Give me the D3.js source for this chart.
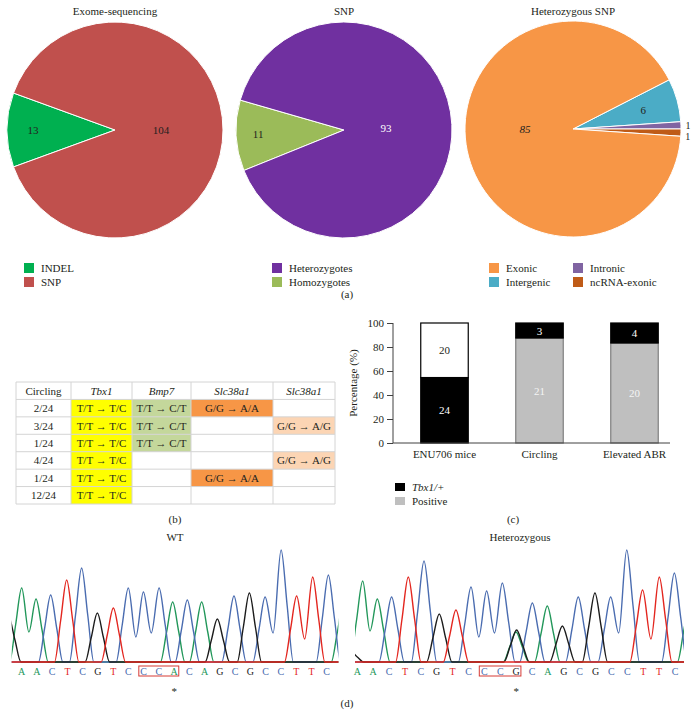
<!DOCTYPE html>
<html><head><meta charset="utf-8">
<script src="https://cdn.jsdelivr.net/npm/d3@7"></script>
<style>
body{margin:0;background:#fff;}
svg{display:block;font-family:"Liberation Serif","Times New Roman",serif;}
</style>
</head><body>
<svg id="chart" width="696" height="727"></svg>
<script>
// ---------------- DATA ----------------
// (a) pies
const exomeCategories = ["INDEL", "SNP"];
const exomeValues = [13, 104];
const snpCategories = ["Heterozygotes", "Homozygotes"];
const snpValues = [93, 11];
const hetCategories = ["Exonic", "Intergenic", "Intronic", "ncRNA-exonic"];
const hetValues = [85, 6, 1, 1];

// (b) table
const tableHeaders = ["Circling", "Tbx1", "Bmp7", "Slc38a1", "Slc38a1"];
const circlingRatios = ["2/24", "3/24", "1/24", "4/24", "1/24", "12/24"];
const tbx1Genotypes = ["T/T → T/C", "T/T → T/C", "T/T → T/C", "T/T → T/C", "T/T → T/C", "T/T → T/C"];
const bmp7Genotypes = ["T/T → C/T", "T/T → C/T", "T/T → C/T", "", "", ""];
const slc38a1AGenotypes = ["G/G → A/A", "", "", "", "G/G → A/A", ""];
const slc38a1BGenotypes = ["", "G/G → A/G", "", "G/G → A/G", "", ""];

// (c) stacked bars (counts)
const barCategories = ["ENU706 mice", "Circling", "Elevated ABR"];
const barBottomCounts = [24, 21, 20];
const barTopCounts = [20, 3, 4];
const barBottomGroup = ["Tbx1/+", "Positive", "Positive"];
const barTopGroup = ["Other", "Tbx1/+", "Tbx1/+"];
const barYTicks = [0, 20, 40, 60, 80, 100];

// (d) chromatograms
const wtBases = ["A","A","C","T","C","G","T","C","C","C","A","C","A","G","C","G","C","C","T","T","C"];
const wtPeakPos = [0,0.94,1.90,2.95,3.93,4.96,6.01,6.99,7.98,9.01,9.90,10.86,11.80,12.83,13.92,14.93,15.96,17.01,18.03,19.08,20.11];
const wtPeakHeights = [74,63,67,82,94,49,54,74,70,74,60,62,60,43,66,69,65,112,66,85,87];
const wtValleys = [30,null,null,null,null,null,null,25,29,null,null,null,null,null,null,null,29,null,23,null];
const wtEdgePeaks = [{base:"G", pos:-0.85, h:45}, {base:"A", pos:21.1, h:60}];

const hetBases = ["A","A","C","T","C","G","T","C","C","C","G","C","A","G","C","G","C","C","T","T","C"];
const hetPeakPos = [0.34,1.26,2.16,3.21,4.20,5.16,6.21,7.16,8.14,9.13,10.03,11.02,11.96,12.91,13.91,14.96,15.95,16.96,17.96,19.01,19.96];
const hetPeakHeights = [81,63,65,85,101,48,52,75,71,79,32,59,56,36,65,69,65,112,72,85,89];
const hetValleys = [31,null,null,null,null,null,null,25,29,null,null,null,null,null,null,null,29,null,23,null];
const hetEdgePeaks = [{base:"G", pos:-0.4, h:10}, {base:"A", pos:9.99, h:30}, {base:"A", pos:20.95, h:62}];

// ---------------- DRAW ----------------
const svg = d3.select("#chart");
svg.append("rect").attr("width", 696).attr("height", 727).attr("fill", "#fff");
const FS = 11;

function txt(g, x, y, s, opts = {}) {
  return g.append("text").attr("x", x).attr("y", y)
    .attr("font-size", opts.size || FS)
    .attr("text-anchor", opts.anchor || "middle")
    .attr("fill", opts.fill || "#231f20")
    .attr("font-style", opts.italic ? "italic" : null)
    .attr("font-family", opts.family || null)
    .text(s);
}

// ---- Pies ----
const R = 108;
function drawPie(cfg) {
  const g = svg.append("g").attr("transform", `translate(${cfg.cx},${cfg.cy})`);
  const items = cfg.order.map(i => ({cat: cfg.cats[i], val: cfg.vals[i], color: cfg.colors[i], lab: cfg.labels[i]}));
  const a0 = cfg.startDeg * Math.PI / 180;
  const pie = d3.pie().sort(null).value(d => d.val).startAngle(a0).endAngle(a0 + 2 * Math.PI);
  const arc = d3.arc().innerRadius(0).outerRadius(R);
  const arcs = pie(items);
  g.selectAll("path").data(arcs).join("path")
    .attr("d", arc).attr("fill", d => d.data.color)
    .attr("stroke", "#fff").attr("stroke-width", 1);
  arcs.forEach(d => {
    const L = d.data.lab;
    const ang = L.angle !== undefined ? L.angle * Math.PI / 180 : (d.startAngle + d.endAngle) / 2;
    const x = L.r * Math.sin(ang), y = -L.r * Math.cos(ang);
    txt(g, x, y + 4, d.data.val, {fill: L.fill, italic: L.italic, size: L.size});
  });
  txt(svg, cfg.cx, 15, cfg.title);
  cfg.legend.forEach(lg => {
    svg.append("rect").attr("x", lg.x).attr("y", lg.y).attr("width", 10).attr("height", 10)
      .attr("fill", cfg.colors[lg.i]);
    txt(svg, lg.x + 17, lg.y + 9, cfg.cats[lg.i], {anchor: "start"});
  });
}

drawPie({
  cx: 115, cy: 130, title: "Exome-sequencing",
  cats: exomeCategories, vals: exomeValues, colors: ["#00b050", "#c0504d"],
  order: [0, 1], startDeg: 250,
  labels: [{r: 82, fill: "#231f20"}, {r: 46, fill: "#231f20"}],
  legend: [{i: 0, x: 24, y: 263}, {i: 1, x: 24, y: 277}]
});
drawPie({
  cx: 344, cy: 130, title: "SNP",
  cats: snpCategories, vals: snpValues, colors: ["#7030a0", "#9bbb59"],
  order: [1, 0], startDeg: 248,
  labels: [{r: 42, fill: "#ffffff"}, {r: 86, fill: "#231f20"}],
  legend: [{i: 0, x: 272, y: 263}, {i: 1, x: 272, y: 277}]
});
drawPie({
  cx: 573, cy: 129, title: "Heterozygous SNP",
  cats: hetCategories, vals: hetValues, colors: ["#f79646", "#4bacc6", "#8064a2", "#bf5b17"],
  order: [1, 2, 3, 0], startDeg: 62.9,
  labels: [{r: 48, angle: 270, fill: "#231f20", italic: true}, {r: 73, fill: "#231f20"},
           {r: 115, angle: 88.2, fill: "#231f20", size: 10}, {r: 115, angle: 93.6, fill: "#231f20", size: 10}],
  legend: [{i: 0, x: 489, y: 263}, {i: 1, x: 489, y: 277}, {i: 2, x: 573, y: 263}, {i: 3, x: 573, y: 277}]
});
txt(svg, 347, 298, "(a)");

// ---- Table (b) ----
(function () {
  const g = svg.append("g");
  const colWidths = [55, 61, 59, 82, 62];
  const colEdges = [16];
  colWidths.forEach(w => colEdges.push(colEdges[colEdges.length - 1] + w));
  const rows = d3.range(7);
  const yRow = d3.scaleBand().domain(rows).range([382, 504]);
  const columns = [circlingRatios, tbx1Genotypes, bmp7Genotypes, slc38a1AGenotypes, slc38a1BGenotypes];
  const fills = [null, "#ffff00", "#c4d79b", "#f79646", "#fcd5b4"];
  columns.forEach((col, c) => {
    col.forEach((v, r) => {
      if (v && fills[c]) {
        g.append("rect").attr("x", colEdges[c]).attr("y", yRow(r + 1))
          .attr("width", colEdges[c + 1] - colEdges[c]).attr("height", yRow.bandwidth())
          .attr("fill", fills[c]);
      }
    });
  });
  rows.concat([7]).forEach(r => {
    const y = r === 7 ? 504 : yRow(r);
    g.append("line").attr("x1", 16).attr("x2", 335).attr("y1", y).attr("y2", y)
      .attr("stroke", "#d4d4d4").attr("stroke-width", 1);
  });
  colEdges.forEach(x => {
    g.append("line").attr("x1", x).attr("x2", x).attr("y1", 382).attr("y2", 504)
      .attr("stroke", "#d4d4d4").attr("stroke-width", 1);
  });
  tableHeaders.forEach((h, c) => {
    txt(g, (colEdges[c] + colEdges[c + 1]) / 2, yRow(0) + yRow.bandwidth() / 2 + 4, h, {italic: c > 0});
  });
  columns.forEach((col, c) => {
    col.forEach((v, r) => {
      if (v) txt(g, (colEdges[c] + colEdges[c + 1]) / 2, yRow(r + 1) + yRow.bandwidth() / 2 + 4, v);
    });
  });
  txt(svg, 175, 523, "(b)");
})();

// ---- Bar chart (c) ----
(function () {
  const g = svg.append("g");
  const x = d3.scaleBand().domain(barCategories).range([397, 682]).paddingInner(0.5).paddingOuter(0.25);
  const y = d3.scaleLinear().domain([0, 100]).range([443, 323]);
  const groupFill = {"Tbx1/+": "#000000", "Positive": "#bfbfbf", "Other": "#ffffff"};
  const groupStroke = {"Tbx1/+": "#000000", "Positive": "#7f7f7f", "Other": "#000000"};
  const groupText = {"Tbx1/+": "#ffffff", "Positive": "#f4f4f4", "Other": "#231f20"};
  barCategories.forEach((cat, i) => {
    const tot = barBottomCounts[i] + barTopCounts[i];
    const pb = barBottomCounts[i] / tot * 100;
    const segs = [
      {y0: 0, y1: pb, grp: barBottomGroup[i], n: barBottomCounts[i]},
      {y0: pb, y1: 100, grp: barTopGroup[i], n: barTopCounts[i]}
    ];
    segs.forEach(s => {
      g.append("rect").attr("x", x(cat)).attr("y", y(s.y1)).attr("width", x.bandwidth())
        .attr("height", y(s.y0) - y(s.y1)).attr("fill", groupFill[s.grp])
        .attr("stroke", groupStroke[s.grp]).attr("stroke-width", 1.2);
    });
    segs.forEach(s => {
      const cy = (y(s.y0) + y(s.y1)) / 2;
      txt(g, x(cat) + x.bandwidth() / 2, cy + 4, s.n, {fill: groupText[s.grp]});
    });
  });
  const ax = g.append("g").attr("transform", "translate(393,0)")
    .call(d3.axisLeft(y).tickValues(barYTicks).tickSize(6).tickPadding(3));
  ax.select(".domain").attr("stroke", "#404040").attr("d", "M0,323V443");
  ax.selectAll(".tick line").attr("stroke", "#404040");
  ax.selectAll(".tick text").attr("font-size", FS).attr("font-family", "Liberation Serif").attr("fill", "#231f20");
  g.append("line").attr("x1", 393).attr("x2", 670).attr("y1", 443).attr("y2", 443).attr("stroke", "#404040");
  barCategories.forEach(cat => txt(g, x(cat) + x.bandwidth() / 2, 458, cat));
  txt(g, 0, 0, "Percentage (%)").attr("transform", "translate(357,383) rotate(-90)");
  [["Tbx1/+", true], ["Positive", false]].forEach(([k, it], j) => {
    g.append("rect").attr("x", 395).attr("y", 483 + j * 14).attr("width", 10).attr("height", 8)
      .attr("fill", groupFill[k]);
    txt(g, 412, 491 + j * 14, k, {anchor: "start", italic: it});
  });
  txt(svg, 513, 523, "(c)");
})();

// ---- Chromatograms (d) ----
const chromColors = {A: "#22975a", C: "#4a6cb0", G: "#1c1c1c", T: "#e3261f"};
function drawChrom(cfg) {
  const g = svg.append("g");
  const x = d3.scaleLinear().domain([0, 20]).range(cfg.range);
  const y = d3.scaleLinear().domain([0, 100]).range([662, 562]);
  const W = 0.8;           // half base width of a peak (in base units)
  const S = 0.5;           // shoulder position (fraction of W) at half height
  const clipId = "clip" + cfg.id;
  svg.append("clipPath").attr("id", clipId).append("rect")
    .attr("x", x(cfg.clip[0])).attr("y", 540).attr("width", x(cfg.clip[1]) - x(cfg.clip[0])).attr("height", 126);
  const peaks = cfg.bases.map((b, i) => ({base: b, pos: cfg.pos[i], h: cfg.heights[i], idx: i}))
    .concat(cfg.edge.map(e => Object.assign({idx: -10}, e)));
  const line = d3.line().x(d => x(d[0])).y(d => y(d[1])).curve(d3.curveMonotoneX);
  const pg = g.append("g").attr("clip-path", `url(#${clipId})`);
  ["A", "C", "G", "T"].forEach(ch => {
    const ps = peaks.filter(p => p.base === ch).sort((a, b) => a.pos - b.pos);
    const pts = [[cfg.clip[0] - 2, 0]];
    ps.forEach((p, k) => {
      const prev = ps[k - 1];
      const v = prev && prev.idx >= 0 && p.idx === prev.idx + 1 ? cfg.valleys[prev.idx] : null;
      if (v !== null && v !== undefined) {
        pts.push([(prev.pos + p.pos) / 2, v]);
      } else {
        if (prev) {
          pts.push([prev.pos + S * W, prev.h / 2]);
          pts.push([prev.pos + W, 0]);
        }
        pts.push([p.pos - W, 0]);
        pts.push([p.pos - S * W, p.h / 2]);
      }
      pts.push([p.pos, p.h]);
    });
    if (ps.length) {
      const last = ps[ps.length - 1];
      pts.push([last.pos + S * W, last.h / 2]);
      pts.push([last.pos + W, 0]);
    }
    pts.push([cfg.clip[1] + 2, 0]);
    pg.append("path").attr("d", line(pts)).attr("fill", "none")
      .attr("stroke", chromColors[ch]).attr("stroke-width", 1.4);
  });
  cfg.bases.forEach((b, i) => {
    txt(g, x(i), 675, b, {fill: chromColors[b], size: 10});
  });
  g.append("rect").attr("x", x(7.68)).attr("y", 666).attr("width", x(10.3) - x(7.68)).attr("height", 10)
    .attr("fill", "none").attr("stroke", "#d63a35").attr("stroke-width", 1);
  txt(g, x(10), 695, "*");
  txt(g, cfg.titleX, 541, cfg.title);
}
drawChrom({id: "wt", title: "WT", titleX: 175, bases: wtBases, pos: wtPeakPos, heights: wtPeakHeights,
  valleys: wtValleys, edge: wtEdgePeaks, range: [21.7, 326.7], clip: [-0.66, 20.77]});
drawChrom({id: "het", title: "Heterozygous", titleX: 520, bases: hetBases, pos: hetPeakPos, heights: hetPeakHeights,
  valleys: hetValleys, edge: hetEdgePeaks, range: [357.3, 675], clip: [-0.15, 20.57]});
txt(svg, 347, 707, "(d)");
</script>
</body></html>
